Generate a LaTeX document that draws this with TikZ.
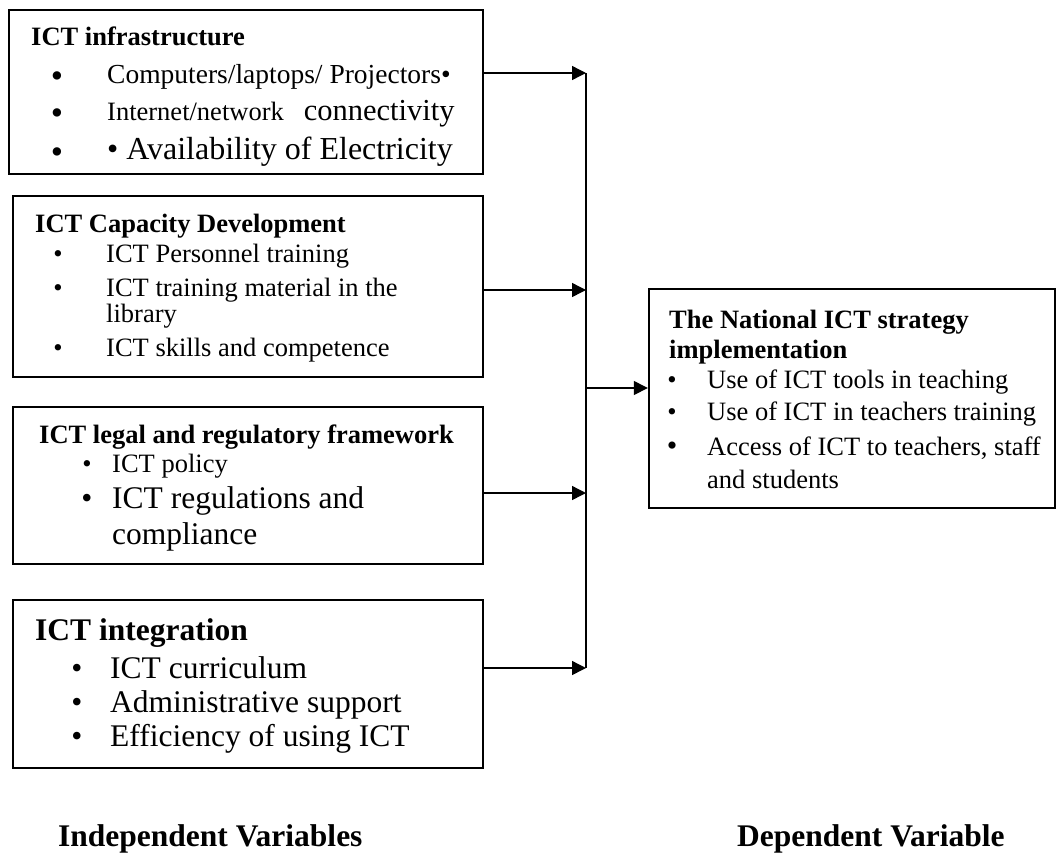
\documentclass[tikz,border=0pt]{standalone}
\usepackage{fontspec}
\setmainfont{Liberation Serif}
\usepackage{tikz}
\usetikzlibrary{positioning, arrows.meta, calc}

\newcommand{\bodyfont}{\fontsize{26.5}{30}\selectfont}
\newcommand{\bigfont}{\fontsize{31.5}{36}\selectfont}

\begin{document}
\begin{tikzpicture}[
    x=1pt, y=-1pt,
    box/.style={rectangle, draw=black, line width=2.4pt, minimum width=470pt, inner sep=0pt},
    txt/.style={anchor=base west, inner sep=0pt, font=\bodyfont},
    head/.style={txt, font=\bodyfont\bfseries},
    bighead/.style={txt, font=\bigfont\bfseries},
    bul/.style={anchor=base, inner sep=0pt, font=\bodyfont},
    arrow/.style={-{Triangle[length=14pt,width=14pt]}, line width=1.4pt},
    bus/.style={line width=2.4pt}
]
\useasboundingbox (0,0) rectangle (1059,852);

% Independent variable boxes
\node[box, minimum width=474pt, minimum height=164pt] (infra) at (246,92) {};
\node[box, minimum height=181pt] (capacity) at (248,286.5) {};
\node[box, minimum height=157pt] (legal) at (248,485.5) {};
\node[box, minimum height=168pt] (integ) at (248,684) {};

% Dependent variable box
\node[box, minimum width=406pt, minimum height=219pt] (strategy) at (852,398.5) {};

% ICT infrastructure
\node[head] (infraT) at (31,45) {ICT infrastructure};
\node[bul, font=\fontsize{35}{35}\selectfont] (infraB1) at (57,87) {\textbullet};
\node[bul, font=\fontsize{35}{35}\selectfont] (infraB2) at (57,124) {\textbullet};
\node[bul, font=\fontsize{35}{35}\selectfont] (infraB3) at (57,163) {\textbullet};
\node[txt, font=\fontsize{27.5}{30}\selectfont] (infra1) at (107,83) {Computers/laptops/ Projectors•};
\node[txt] (infra2) at (107,120) {Internet/network\hspace{20pt}{\fontsize{30.5}{34}\selectfont connectivity}};
\node[txt, font=\fontsize{32}{36}\selectfont] (infra3) at (107,159) {• Availability of Electricity};

% ICT Capacity Development
\node[head] (capT) at (35,232) {ICT Capacity Development};
\node[bul] (capB1) at (58,262) {\textbullet};
\node[bul] (capB2) at (58,296) {\textbullet};
\node[bul] (capB3) at (58,356) {\textbullet};
\node[txt] (cap1) at (106,262) {ICT Personnel training};
\node[txt] (cap2) at (106,296) {ICT training material in the};
\node[txt] (cap3) at (106,322) {library};
\node[txt] (cap4) at (106,356) {ICT skills and competence};

% ICT legal and regulatory framework
\node[head] (legT) at (39,443) {ICT legal and regulatory framework};
\node[bul] (legB1) at (87,472) {\textbullet};
\node[bul, font=\bigfont] (legB2) at (87,508) {\textbullet};
\node[txt] (leg1) at (112,472) {ICT policy};
\node[txt, font=\bigfont] (leg2) at (112,508) {ICT regulations and};
\node[txt, font=\bigfont] (leg3) at (112,544) {compliance};

% ICT integration
\node[bighead] (intT) at (35,640) {ICT integration};
\node[bul, font=\bigfont] (intB1) at (77,678) {\textbullet};
\node[bul, font=\bigfont] (intB2) at (77,712) {\textbullet};
\node[bul, font=\bigfont] (intB3) at (77,746) {\textbullet};
\node[txt, font=\bigfont] (int1) at (110,678) {ICT curriculum};
\node[txt, font=\bigfont] (int2) at (110,712) {Administrative support};
\node[txt, font=\bigfont] (int3) at (110,746) {Efficiency of using ICT};

% The National ICT strategy implementation
\node[head] (strT1) at (669,328) {The National ICT strategy};
\node[head] (strT2) at (669,358) {implementation};
\node[bul] (strB1) at (672,388) {\textbullet};
\node[bul] (strB2) at (672,420) {\textbullet};
\node[bul, font=\fontsize{30}{34}\selectfont] (strB3) at (672,455) {\textbullet};
\node[txt] (str1) at (707,388) {Use of ICT tools in teaching};
\node[txt] (str2) at (707,420) {Use of ICT in teachers training};
\node[txt] (str3) at (707,455) {Access of ICT to teachers, staff};
\node[txt] (str4) at (707,488) {and students};

% Captions
\node[bighead] (indep) at (58,846) {Independent Variables};
\node[bighead] (dep) at (737,846) {Dependent Variable};

% Connectors
\coordinate (j1) at (586,73);
\coordinate (j2) at (586,290);
\coordinate (j3) at (586,493);
\coordinate (j4) at (586,668);
\coordinate (j0) at (586,388);
\draw[bus] (j1) -- (j4);
\draw[arrow] (infra.east |- j1) -- (j1);
\draw[arrow] (capacity.east |- j2) -- (j2);
\draw[arrow] (legal.east |- j3) -- (j3);
\draw[arrow] (integ.east |- j4) -- (j4);
\draw[arrow] (j0) -- (strategy.west |- j0);

\end{tikzpicture}
\end{document}
